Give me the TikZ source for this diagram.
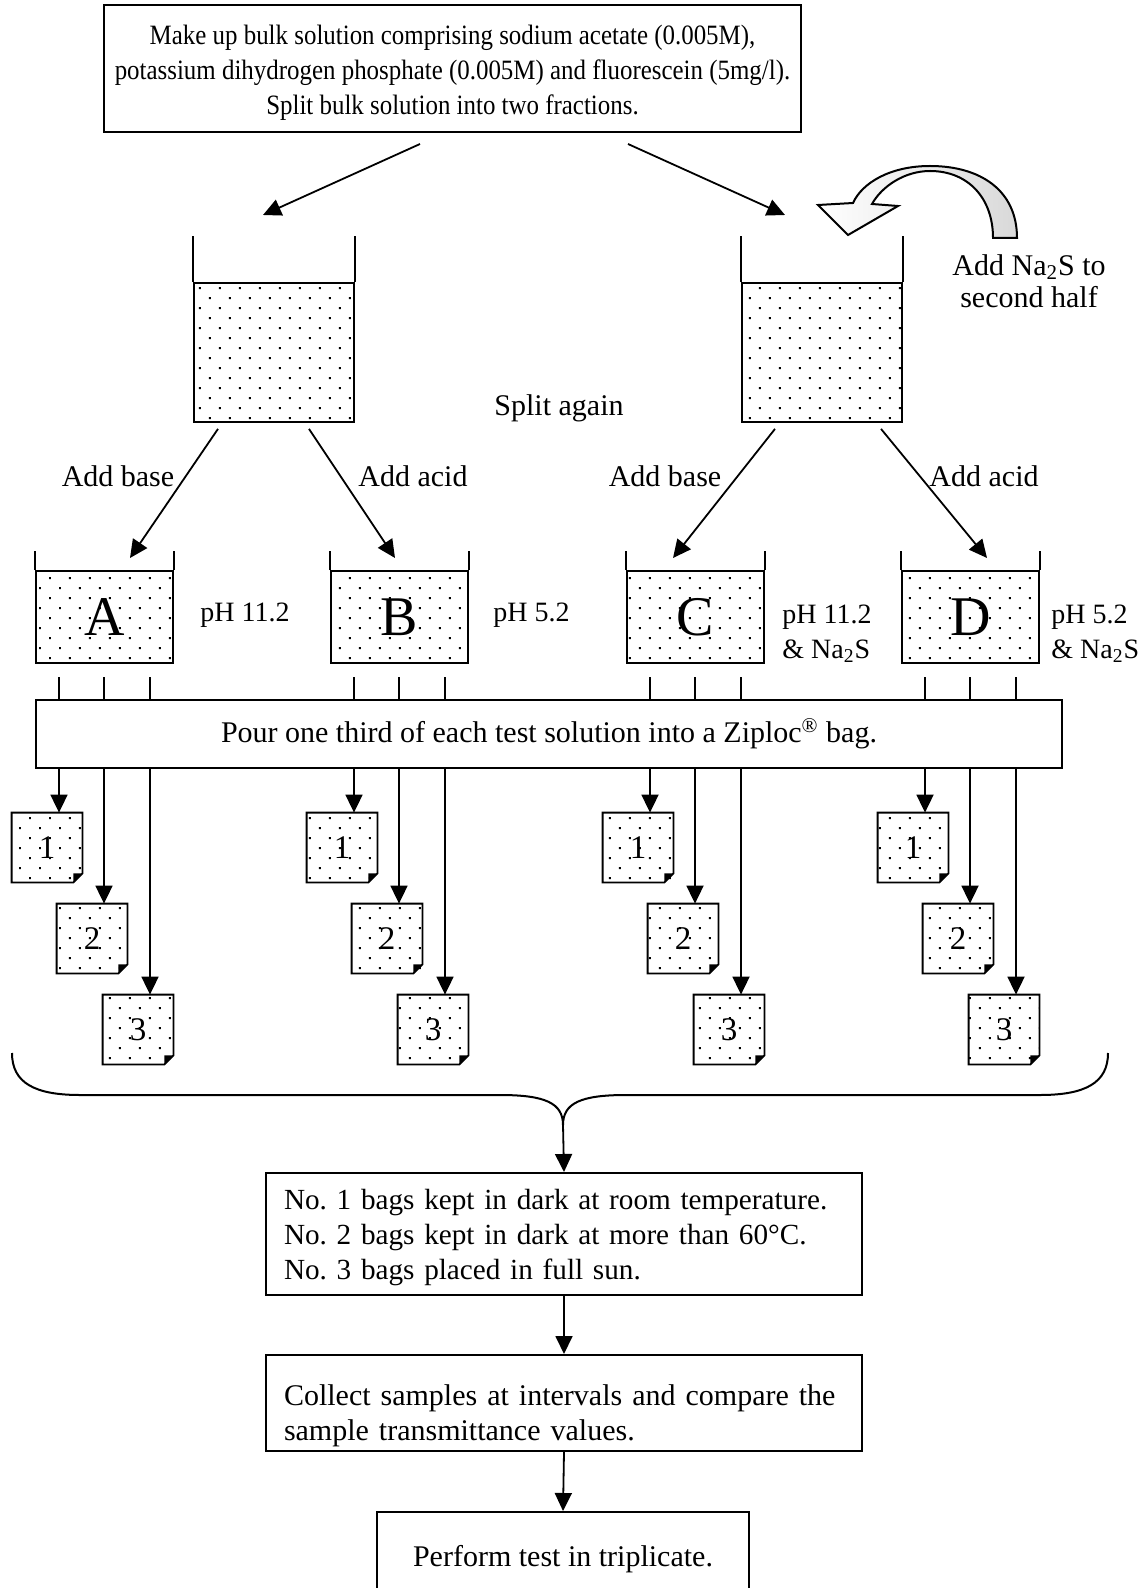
\documentclass[tikz,border=0pt]{standalone}
\usepackage{fontspec}
\setmainfont{Liberation Serif}
\usetikzlibrary{arrows.meta,patterns.meta}
\frenchspacing
\newcommand{\txt}{\fontsize{15}{17.5}\selectfont}
\tikzset{
  box/.style={draw, line width=1pt, inner sep=0pt, align=center, font=\txt},
  flow/.style={-{Triangle[length=9pt,width=8.5pt]}, line width=0.9pt},
  wall/.style={line width=0.9pt},
  liquid/.style={draw, line width=0.9pt, inner sep=0pt,
                 pattern={Dots[distance=7.07pt,angle=45,radius=0.7pt]}},
  bag/.style={inner sep=0pt, minimum width=35pt, minimum height=34.5pt,
              pattern={Dots[distance=7.07pt,angle=45,radius=0.7pt]},
              font=\fontsize{16.5}{16.5}\selectfont},
  lbl/.style={font=\txt, inner sep=0pt},
}
% bag with a dog-eared corner: name, left, top, number
\newcommand{\bagnode}[4]{%
  \node[bag] (#1) at (#2+35,#3+34.5) {#4};
  \draw[wall] (#1.north west) -- (#1.north east) -- ([yshift=4.5pt]#1.south east)
    -- ([xshift=-4.5pt]#1.south east) -- (#1.south west) -- cycle;
  \fill ([yshift=4.5pt]#1.south east) -- ([xshift=-4.5pt]#1.south east)
    -- ([shift={(-4.5pt,4.5pt)}]#1.south east) -- cycle;
}

\begin{document}
\begin{tikzpicture}[x=0.5pt, y=-0.5pt]
  \useasboundingbox (0,0) rectangle (1142,1588);

  \node[box, minimum width=348.5pt, minimum height=63.5pt,
        font=\fontsize{14}{17.5}\selectfont\addfontfeature{FakeStretch=0.89}] (bulk) at (452.5,68.5)
    {\rule{0pt}{13.7pt}Make up bulk solution comprising sodium acetate (0.005M),\\
     potassium dihydrogen phosphate (0.005M) and fluorescein (5mg/l).\\
     Split bulk solution into two fractions.};

  % two halves
  \node[liquid, minimum width=80pt, minimum height=69.5pt] (lbeak) at (274,352.5) {};
  \node[liquid, minimum width=80pt, minimum height=69.5pt] (rbeak) at (822,352.5) {};
  \draw[wall] (lbeak.north west) -- ++(0,-46) (lbeak.north east) -- ++(0,-46);
  \draw[wall] (rbeak.north west) -- ++(0,-46) (rbeak.north east) -- ++(0,-46);
  \coordinate (lin) at (263,215);
  \coordinate (rin) at (785,215);
  \draw[flow] ([xshift=-16.25pt,yshift=-5.5pt]bulk.south) -- (lin);
  \draw[flow] ([xshift=87.75pt,yshift=-5.5pt]bulk.south) -- (rin);

  % Na2S addition
  \draw[line width=1pt, left color=white, right color=gray!30]
    (1017,238) .. controls (1017,190) and (980,166) .. (930,166)
    .. controls (890,166) and (862,183) .. (853,203) -- (818,205) -- (848,235)
    -- (898,206) -- (872,204) .. controls (882,186) and (905,171) .. (930,171)
    .. controls (968,171) and (993,198) .. (993,238) -- cycle;
  \node[lbl, align=center, font=\fontsize{15}{16}\selectfont] (note) at (1029,281)
    {Add Na\textsubscript{2}S to\\second half};

  \node[lbl] (split) at (559,408) {Split again};
  \node[lbl] (baseL) at (118,476) {Add base};
  \node[lbl] (acidL) at (413,476) {Add acid};
  \node[lbl] (baseR) at (665,476) {Add base};
  \node[lbl] (acidR) at (984,476) {Add acid};

  \node[box, minimum width=513pt, minimum height=34pt] (pour) at (549,734)
    {Pour one third of each test solution into a Ziploc\textsuperscript{®} bag.};

  % test solutions, pouring and bags
  \foreach \nm/\lx in {A/36,B/331,C/627,D/902}{
    \node[liquid, minimum width=68.5pt, minimum height=46pt,
          font=\fontsize{28}{28}\selectfont] (\nm) at (\lx+68.5,617) {\nm};
    \draw[wall] (\nm.north west) -- ++(0,-19) (\nm.north east) -- ++(0,-19);
    \foreach \k/\off/\ty in {1/23/813,2/68/904,3/114/995}{
      \draw[wall] (\lx+\off,677) -- (\lx+\off,700);
      \coordinate (t\nm\k) at (\lx+\off,768);
      \bagnode{\nm\k}{\lx+\off-47}{\ty}{\k}
      \draw[flow] (t\nm\k) -- (t\nm\k |- \nm\k.north);
    }
  }
  \coordinate (ain) at (130,558);
  \coordinate (bin) at (395,558);
  \coordinate (cin) at (673,558);
  \coordinate (din) at (987,558);
  \draw[flow] ([xshift=-28pt,yshift=-3pt]lbeak.south) -- (ain);
  \draw[flow] ([xshift=17.5pt,yshift=-3pt]lbeak.south) -- (bin);
  \draw[flow] ([xshift=-23.5pt,yshift=-3pt]rbeak.south) -- (cin);
  \draw[flow] ([xshift=29.5pt,yshift=-3pt]rbeak.south) -- (din);

  \node[lbl, anchor=west, font=\fontsize{14}{17.5}\selectfont] (phA) at (200,615) {pH 11.2};
  \node[lbl, anchor=west, font=\fontsize{14}{17.5}\selectfont] (phB) at (493,615) {pH 5.2};
  \node[lbl, anchor=west, align=left, font=\fontsize{14}{17.5}\selectfont] (phC) at (782,634)
    {pH 11.2\\\& Na\textsubscript{2}S};
  \node[lbl, anchor=west, align=left, font=\fontsize{14}{17.5}\selectfont] (phD) at (1051,634)
    {pH 5.2\\\& Na\textsubscript{2}S};

  % gather all bags
  \coordinate (cusp) at (563,1125);
  \draw[line width=1pt] (12,1053) .. controls (12,1083) and (35,1095) .. (80,1095)
    -- (500,1095) .. controls (545,1095) and (563,1103) .. (cusp);
  \draw[line width=1pt] (1108,1053) .. controls (1108,1083) and (1085,1095) .. (1040,1095)
    -- (626,1095) .. controls (581,1095) and (563,1103) .. (cusp);

  \node[box, anchor=north west, align=left, text width=280pt, inner xsep=9pt,
        minimum height=61pt, font=\fontsize{14.6}{17.5}\selectfont] (keep) at (265,1172)
    {\rule{0pt}{14pt}No.~1 bags kept in dark at room temperature.\\
     No.~2 bags kept in dark at more than 60°C.\\
     No.~3 bags placed in full sun.};
  \node[box, anchor=north west, align=left, text width=280pt, inner xsep=9pt,
        minimum height=48pt] (coll) at (265,1354)
    {\rule{0pt}{23.5pt}Collect samples at intervals and compare the\\
     sample transmittance values.};
  \node[box, anchor=north, minimum width=186pt, minimum height=47pt] (perf) at (563,1511)
    {Perform test in triplicate.};

  \draw[flow] (cusp) -- (keep.north);
  \draw[flow] (keep.south) -- (coll.north);
  \draw[flow] (coll.south) -- (perf.north);
\end{tikzpicture}
\end{document}
